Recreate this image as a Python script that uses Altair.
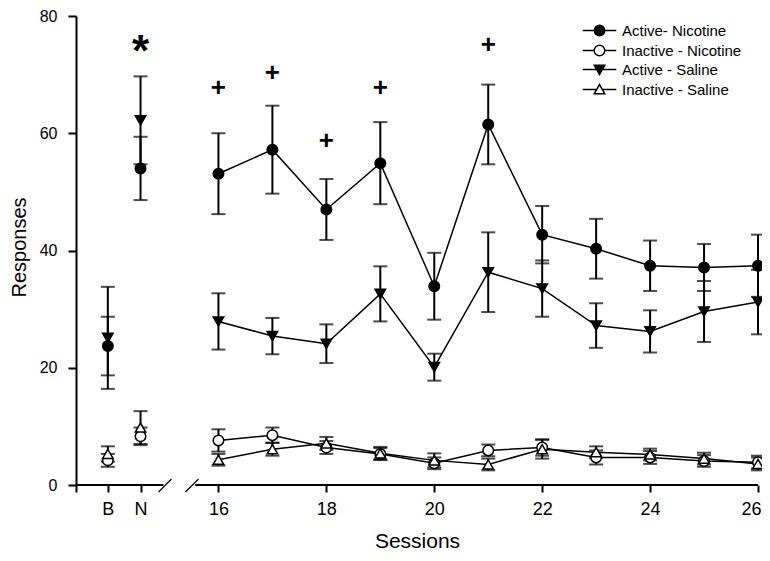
import altair as alt
import pandas as pd

# ---- data ----
sessions = ["B", "N", "16", "17", "18", "19", "20", "21", "22", "23", "24", "25", "26"]
series_names = ["Active- Nicotine", "Inactive - Nicotine", "Active - Saline", "Inactive - Saline"]

active_nic = [23.7, 54.0, 53.1, 57.2, 47.0, 54.9, 33.9, 61.5, 42.7, 40.3, 37.4, 37.1, 37.4]
active_nic_sem = [5.0, 5.4, 6.9, 7.5, 5.2, 7.0, 5.7, 6.8, 4.9, 5.1, 4.3, 4.0, 5.3]
inactive_nic = [4.2, 8.3, 7.6, 8.5, 6.4, 5.3, 3.7, 5.9, 6.4, 4.7, 4.7, 4.1, 3.9]
inactive_nic_sem = [1.1, 1.5, 1.9, 1.3, 1.1, 1.0, 1.0, 1.0, 1.4, 1.2, 1.1, 1.0, 1.1]
active_sal = [25.1, 62.2, 27.9, 25.4, 24.1, 32.6, 20.1, 36.3, 33.5, 27.2, 26.2, 29.6, 31.2]
active_sal_sem = [8.7, 7.5, 4.8, 3.1, 3.3, 4.7, 2.3, 6.8, 4.8, 3.8, 3.6, 5.2, 5.5]
inactive_sal = [5.3, 9.8, 4.3, 6.1, 7.1, 5.4, 4.2, 3.5, 6.1, 5.6, 5.2, 4.5, 3.6]
inactive_sal_sem = [1.3, 2.8, 1.0, 1.1, 1.1, 1.1, 1.2, 1.0, 1.6, 1.0, 1.0, 1.0, 1.1]

plus_sessions = ["16", "17", "18", "19", "21"]
plus_values = [67.8, 70.2, 58.7, 67.7, 75.0]
star_sessions = ["N"]
star_values = [74.8]

# ---- axis layout (break between baseline/nicotine and session 16) ----
cat_pos = {"B": 13.95, "N": 14.556}
X_MIN, X_MAX = 13.36, 26
def xpos(s):
    return cat_pos[s] if s in cat_pos else float(s)

vals = [active_nic, inactive_nic, active_sal, inactive_sal]
sems = [active_nic_sem, inactive_nic_sem, active_sal_sem, inactive_sal_sem]
rows = []
for name, v, e in zip(series_names, vals, sems):
    for s, vv, ee in zip(sessions, v, e):
        rows.append({"series": name, "session": s, "x": xpos(s), "value": vv,
                     "lo": vv - ee, "hi": vv + ee, "cont": s not in cat_pos})
df = pd.DataFrame(rows)

ann = pd.DataFrame(
    [{"x": xpos(s), "value": v, "sym": "+"} for s, v in zip(plus_sessions, plus_values)]
    + [{"x": xpos(s), "value": v, "sym": "*"} for s, v in zip(star_sessions, star_values)]
)

axis_segments = pd.DataFrame({"x": [X_MIN, 15.57], "x2": [14.98, X_MAX]})
break_marks = pd.DataFrame({"x": [14.89, 15.39], "x2": [15.13, 15.63]})

FONT = "Liberation Sans"
W, H = 682, 469

xscale = alt.Scale(domain=[X_MIN, X_MAX], nice=False, zero=False)
yscale = alt.Scale(domain=[0, 80], nice=False)

x_axis = alt.Axis(
    values=[X_MIN, 13.95, 14.556, 16, 18, 20, 22, 24, 26],
    labelExpr="datum.value < 13.5 ? '' : datum.value < 14.2 ? 'B' : datum.value < 15 ? 'N' : format(datum.value, 'd')",
    domain=False, grid=False, tickSize=7, tickWidth=2, tickColor="black",
    labelFontSize=18, labelPadding=8, labelColor="black", labelOverlap=False,
    labelFlush=True, labelFlushOffset=3,
    title="Sessions", titleFontSize=21, titleFontWeight="normal", titleColor="black",
    titleX=341, titleY=62, titleBaseline="alphabetic", titleAlign="center",
)
y_axis = alt.Axis(
    values=[0, 20, 40, 60, 80], grid=False, domain=True, domainWidth=2, domainColor="black",
    tickSize=8, tickWidth=2, tickColor="black", labelFontSize=16, labelPadding=11, labelColor="black",
    title="Responses", titleFontSize=20, titleFontWeight="normal", titleColor="black",
    titleX=-57, titleY=231, titleAngle=270, titleBaseline="middle", titleAlign="center",
)

base = alt.Chart(df)
X = alt.X("x:Q", scale=xscale, axis=x_axis)
Y = alt.Y("value:Q", scale=yscale, axis=y_axis)

lines = base.transform_filter("datum.cont").mark_line(color="black", strokeWidth=1.5).encode(
    x=X, y=Y, detail="series:N")

err = base.mark_rule(color="black", strokeWidth=2).encode(
    x=alt.X("x:Q", scale=xscale), y=alt.Y("lo:Q", scale=yscale), y2="hi:Q")
cap_lo = base.mark_tick(color="black", thickness=2, size=14, orient="horizontal").encode(
    x=alt.X("x:Q", scale=xscale), y=alt.Y("lo:Q", scale=yscale))
cap_hi = base.mark_tick(color="black", thickness=2, size=14, orient="horizontal").encode(
    x=alt.X("x:Q", scale=xscale), y=alt.Y("hi:Q", scale=yscale))

styles = {
    "Active- Nicotine": ("circle", "black"),
    "Inactive - Nicotine": ("circle", "white"),
    "Active - Saline": ("triangle-down", "black"),
    "Inactive - Saline": ("triangle-up", "white"),
}
points = []
for name in series_names:
    shp, fill = styles[name]
    points.append(
        base.transform_filter(alt.datum.series == name).mark_point(
            shape=shp, filled=True, fill=fill, stroke="black", strokeWidth=1.5, size=110, opacity=1
        ).encode(x=alt.X("x:Q", scale=xscale), y=alt.Y("value:Q", scale=yscale))
    )

legend_paths = [
    "M-3.2,0L-1,0M1,0L3.2,0M1,0A1,1 0 1,1 -1,0A1,1 0 1,1 1,0Z",
    "M-3.2,0L-1,0M1,0L3.2,0M1,0A1,1 0 1,1 -1,0A1,1 0 1,1 1,0Z",
    "M-3.2,0L-0.55,0M0.55,0L3.2,0M-1,-0.8L1,-0.8L0,0.95Z",
    "M-3.2,0L-0.55,0M0.55,0L3.2,0M-1,0.8L1,0.8L0,-0.95Z",
]
leg = dict(orient="none", legendX=516, legendY=7, title=None, labelFontSize=15, labelColor="black",
           symbolSize=110, symbolStrokeWidth=1.5, symbolStrokeColor="black", labelOffset=15,
           rowPadding=3, symbolOffset=0, padding=0, symbolOpacity=1)
legend_layer = base.transform_filter("datum.value < -1000").mark_point(
    filled=True, strokeWidth=1.5, opacity=1
).encode(
    x=alt.X("x:Q", scale=xscale), y=alt.Y("value:Q", scale=yscale),
    shape=alt.Shape("series:N", scale=alt.Scale(domain=series_names, range=legend_paths), legend=alt.Legend(**leg)),
    fill=alt.Fill("series:N", scale=alt.Scale(domain=series_names, range=["black", "white", "black", "white"]),
                  legend=alt.Legend(**leg)),
    stroke=alt.Stroke("series:N", scale=alt.Scale(domain=series_names, range=["black"] * 4),
                      legend=alt.Legend(**leg)),
)

plus = alt.Chart(ann).transform_filter("datum.sym == '+'").mark_text(
    fontSize=26, fontWeight="bold", color="black", baseline="middle", align="center", font=FONT
).encode(x=alt.X("x:Q", scale=xscale), y=alt.Y("value:Q", scale=yscale), text="sym:N")
star = alt.Chart(ann).transform_filter("datum.sym == '*'").mark_text(
    fontSize=44, fontWeight="bold", color="black", baseline="alphabetic", align="center", font=FONT, dy=20
).encode(x=alt.X("x:Q", scale=xscale), y=alt.Y("value:Q", scale=yscale), text="sym:N")

axis_line = alt.Chart(axis_segments).mark_rule(color="black", strokeWidth=2).encode(
    x=alt.X("x:Q", scale=xscale), x2="x2:Q", y=alt.value(H))
breaks = alt.Chart(break_marks).mark_rule(color="black", strokeWidth=1.2).encode(
    x=alt.X("x:Q", scale=xscale), x2="x2:Q", y=alt.value(H + 7), y2=alt.value(H - 6))

chart = alt.layer(
    lines, err, cap_lo, cap_hi, *points, legend_layer, plus, star, axis_line, breaks
).properties(
    width=W, height=H,
    autosize=alt.AutoSizeParams(type="none"),
    padding={"left": 68, "top": 8, "right": 4, "bottom": 68},
).configure(font=FONT).configure_view(stroke=None)

chart.save("out.html", embed_options={"renderer": "svg", "actions": False})
